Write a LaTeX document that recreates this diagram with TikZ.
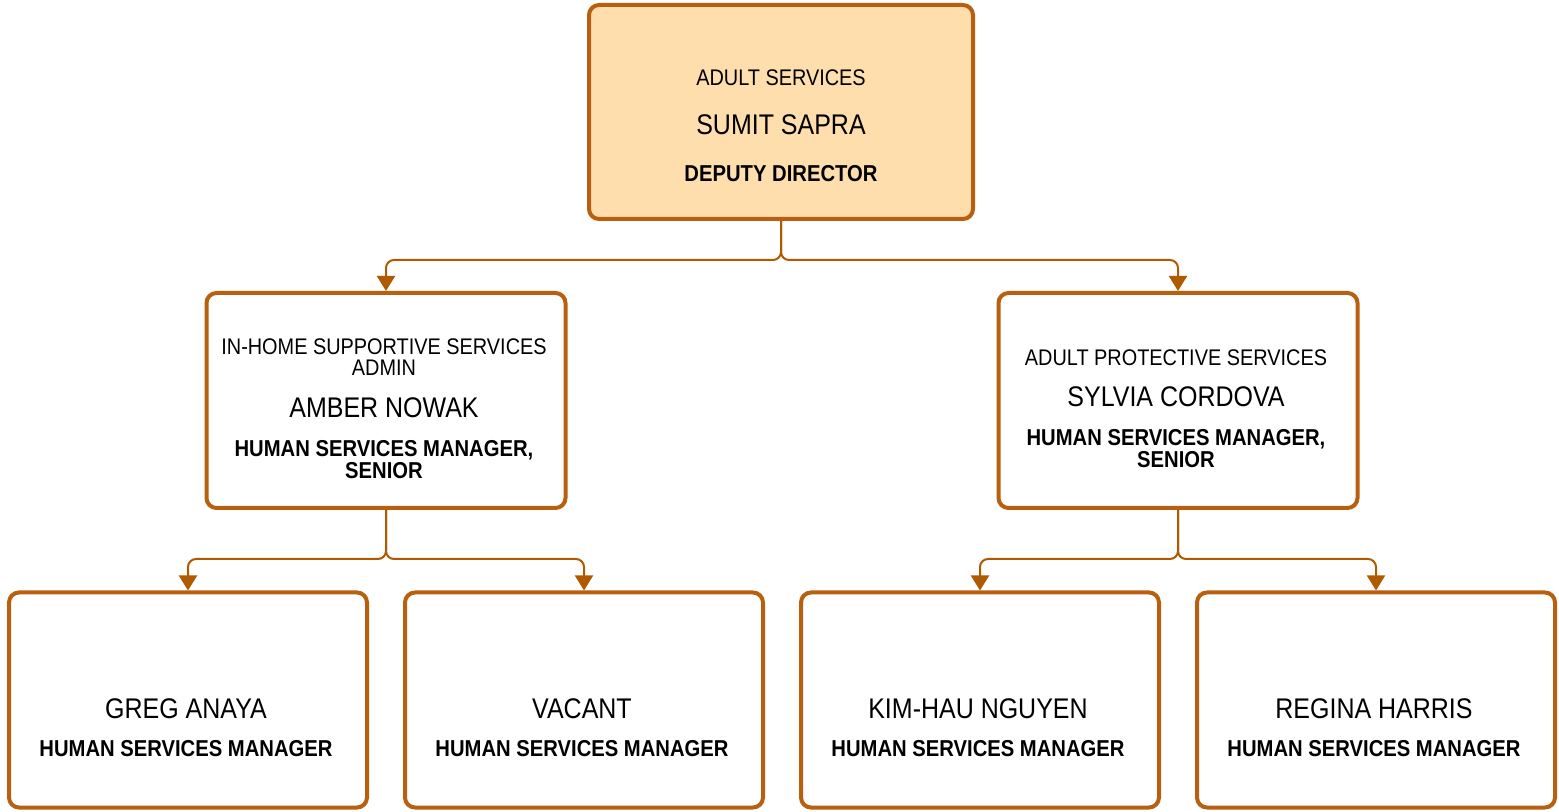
\documentclass[tikz,border=0pt]{standalone}
\usepackage{fontspec}
\setmainfont{Liberation Sans}[FakeStretch=0.88]
\usepackage{tikz}
\usetikzlibrary{arrows.meta}

\definecolor{brd}{HTML}{B8600F}
\definecolor{arr}{HTML}{B05A00}
\definecolor{topfill}{HTML}{FFDEAD}

\tikzset{
  box/.style={draw=brd, line width=2pt, rounded corners=5pt, fill=white,
    minimum width=179.5pt, minimum height=107.5pt, inner sep=0pt},
  conn/.style={draw=arr, line width=1pt, rounded corners=4pt,
    -{Triangle[width=9pt, length=7.5pt]}},
  unit/.style={inner sep=0pt, align=center, font=\fontsize{11.3}{10.5}\selectfont},
  who/.style={inner sep=0pt, font=\fontsize{14.2}{15}\selectfont},
  role/.style={inner sep=0pt, align=center, font=\fontsize{11.5}{11}\selectfont\bfseries},
}

\begin{document}
\begin{tikzpicture}[x=0.5pt, y=-0.5pt]
            \useasboundingbox (0,0) rectangle (1559,812);

            % boxes
            \node[box, fill=topfill, minimum width=192pt, minimum height=107pt] (dep) at (781, 112) {};
            \node[box] (ihss) at (386, 400.5) {};
            \node[box] (aps) at (1178, 400.5) {};
            \node[box, minimum width=179pt] (greg) at (188, 700) {};
            \node[box, minimum width=179pt] (vac) at (584, 700) {};
            \node[box, minimum width=179pt] (kim) at (980, 700) {};
            \node[box, minimum width=179pt] (reg) at (1376, 700) {};

            % texts
            \node[unit] (depu) at (781, 78) {ADULT SERVICES};
            \node[who] (depn) at (781, 125) {SUMIT SAPRA};
            \node[role] (depr) at (781, 174) {DEPUTY DIRECTOR};

            \node[unit] (ihssu) at (384, 357.5) {IN-HOME SUPPORTIVE SERVICES\\ADMIN};
            \node[who] (ihssn) at (384, 408) {AMBER NOWAK};
            \node[role] (ihssr) at (384, 460) {HUMAN SERVICES MANAGER,\\SENIOR};

            \node[unit] (apsu) at (1176, 358) {ADULT PROTECTIVE SERVICES};
            \node[who] (apsn) at (1176, 397) {SYLVIA CORDOVA};
            \node[role] (apsr) at (1176, 449) {HUMAN SERVICES MANAGER,\\SENIOR};

            \node[who] (gregn) at (186, 709) {GREG ANAYA};
            \node[role] (gregr) at (186, 749) {HUMAN SERVICES MANAGER};
            \node[who] (vacn) at (582, 709) {VACANT};
            \node[role] (vacr) at (582, 749) {HUMAN SERVICES MANAGER};
            \node[who] (kimn) at (978, 709) {KIM-HAU NGUYEN};
            \node[role] (kimr) at (978, 749) {HUMAN SERVICES MANAGER};
            \node[who] (regn) at (1374, 709) {REGINA HARRIS};
            \node[role] (regr) at (1374, 749) {HUMAN SERVICES MANAGER};

            % connectors
            \draw[conn] (dep.south) -- ++(0, 39) -| (ihss.north); % dep-ihss
            \draw[conn] (dep.south) -- ++(0, 39) -| (aps.north); % dep-aps
            \draw[conn] (ihss.south) -- ++(0, 49) -| (greg.north); % ihss-greg
            \draw[conn] (ihss.south) -- ++(0, 49) -| (vac.north); % ihss-vac
            \draw[conn] (aps.south) -- ++(0, 49) -| (kim.north); % aps-kim
            \draw[conn] (aps.south) -- ++(0, 49) -| (reg.north); % aps-reg
        \end{tikzpicture}
\end{document}
